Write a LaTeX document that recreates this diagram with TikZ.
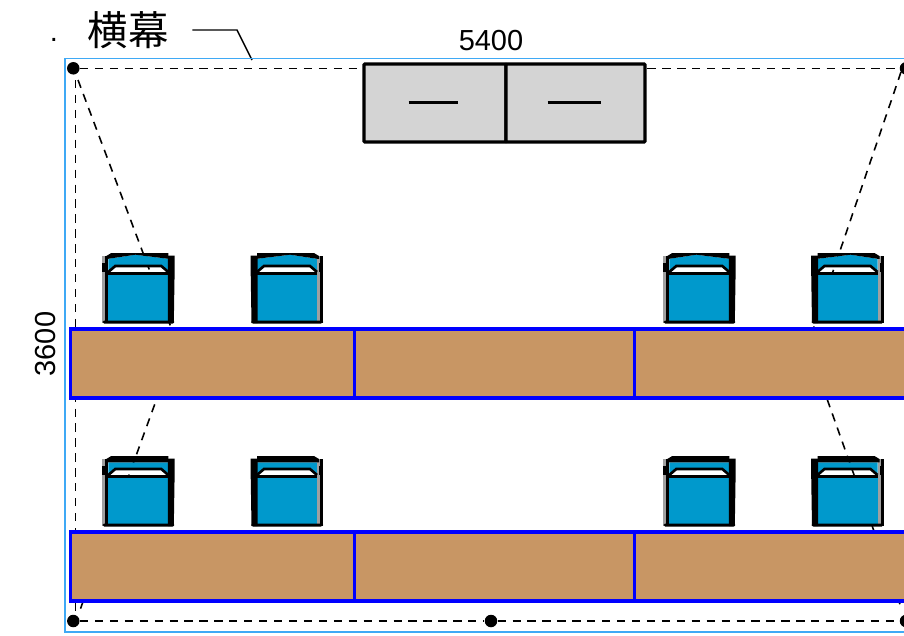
\documentclass[tikz,border=0pt]{standalone}
\usepackage{fontspec}
\setmainfont{Liberation Sans}
\newfontfamily\cjk{Noto Sans CJK JP}
\usetikzlibrary{positioning}

\definecolor{seatblue}{HTML}{0099CC}
\definecolor{seatgray}{HTML}{A0A0A0}
\definecolor{benchtan}{HTML}{C89664}
\definecolor{framecyan}{HTML}{3FA9F5}
\definecolor{curtaingray}{HTML}{D4D4D4}

\tikzset{
pics/seat/.style n args={4}{code={
    \fill[seatblue] (-30,22) rectangle (30,69);
    \fill[seatblue] (-30,#1) -- (-3,#2) -- (30,#1) -- (30,18.7) -- (23,13) -- (-23,13) -- (-30,18.7) -- cycle;
    \fill[#3] (-36,3) rectangle (-33,70);
    \fill[#4] (-33,3) rectangle (-30,70);
    \fill[black] (-36,10) rectangle (-32,19);
    \fill[black] (29.5,2.5) -- (36.3,2.5) -- (36.3,20) -- (35.5,70) -- (29.5,70) -- cycle;
    \fill[black] (-32,3) -- (-27,0) -- (30,0) -- (30,#1) -- (-3,#2) -- (-30,#1) -- (-32,#1) -- cycle;
    \draw[line width=1.5pt] (-30,19) -- (-23,13) -- (23,13) -- (30,19);
    \fill[black] (-30,18.7) rectangle (30,22);
    \fill[black, rounded corners=1pt] (-36,67.5) rectangle (36,70.5);
}}
}

\begin{document}
\begin{tikzpicture}[x=0.02cm, y=-0.02cm,
bench/.style={draw=blue, fill=benchtan, line width=1.8pt, rectangle, inner sep=0pt, outer sep=0pt, minimum height=1.38cm},
curtain/.style={draw=black, fill=curtaingray, line width=1.8pt, rectangle, rounded corners=0.5pt, inner sep=0pt, outer sep=0pt, minimum height=1.56cm},
dot/.style={fill=black, circle, inner sep=0pt, minimum size=0.25cm},
dim/.style={inner sep=0pt, font=\fontsize{16.5}{16.5}\selectfont},
guide/.style={draw=black, line width=0.9pt, dash pattern=on 4.7pt off 3.8pt}]
    \useasboundingbox (0,0) rectangle (904,636);
    \clip (0,0) rectangle (904,636);

    \node[dim] (width) at (491,41) {5400};
    \node[dim, rotate=90] (height) at (46,344) {3600};
    \node[dim] (point) at (54,40) {.};
    \node[inner sep=0pt, outer xsep=0.48cm, font=\cjk\fontsize{23}{23}\selectfont] (title) at (128,30) {横幕};

    \coordinate (leaderbend) at (237,30);
    \coordinate (leaderend) at (252,60);
    \draw[line width=0.8pt] (title.east) -- (leaderbend) -- (leaderend);

    \node[draw=framecyan, line width=1.1pt, rectangle, inner sep=0pt, outer sep=0pt, minimum width=18cm, minimum height=11.48cm, anchor=north west] (frame) at (65,58.5) {};

    \node[dot] (topleft) at (73.3,68.3) {};
    \node[dot] (topright) at (906,68.3) {};
    \node[dot] (botleft) at (73.3,621) {};
    \node[dot] (botmid) at (491,621) {};
    \node[dot] (botright) at (906,621) {};

    \coordinate (sidetop) at (75.5,80);
    \coordinate (sidebot) at (75.5,612);
    \coordinate (lefta) at (78,80);
    \coordinate (leftb) at (172,330);
    \coordinate (leftc) at (157,398);
    \coordinate (leftd) at (80,610);
    \coordinate (righta) at (901,72);
    \coordinate (rightb) at (813,330);
    \coordinate (rightc) at (826,396);
    \coordinate (rightd) at (902,610);

    \draw[guide] (topleft) -- (topright);
    \draw[guide] (botleft) -- (botmid);
    \draw[guide] (botmid) -- (botright);
    \draw[guide] (sidetop) -- (sidebot);
    \draw[guide] (lefta) -- (leftb) -- (leftc) -- (leftd);
    \draw[guide] (righta) -- (rightb) -- (rightc) -- (rightd);

    \foreach \sx in {138.3,699.3} {
        \pic at (\sx,253) {seat={5.8}{1.7}{seatgray}{black}};
        \pic at (\sx,456) {seat={6.3}{6.3}{seatgray}{black}};
    }
    \foreach \sx in {287,847.5} {
        \pic[xscale=-1] at (\sx,253) {seat={5.8}{1.7}{black}{seatgray}};
        \pic[xscale=-1] at (\sx,456) {seat={6.3}{6.3}{black}{seatgray}};
    }

    \node[bench, minimum width=5.68cm] (bencha) at (212.5,363.5) {};
    \node[bench, minimum width=5.6cm] (benchb) [right=0pt of bencha] {};
    \node[bench, minimum width=5.6cm] (benchc) [right=0pt of benchb] {};
    \node[bench, minimum width=5.68cm] (benchd) [below=2.68cm of bencha] {};
    \node[bench, minimum width=5.6cm] (benche) [right=0pt of benchd] {};
    \node[bench, minimum width=5.6cm] (benchf) [right=0pt of benche] {};

    \node[curtain, minimum width=2.84cm] (curtaina) at (435,103) {};
    \node[curtain, minimum width=2.78cm] (curtainb) [right=0pt of curtaina] {};
    \draw[line width=1.4pt] (408.5,102.7) -- (458,102.7);
    \draw[line width=1.4pt] (547.5,102.7) -- (600.5,102.7);
\end{tikzpicture}
\end{document}
